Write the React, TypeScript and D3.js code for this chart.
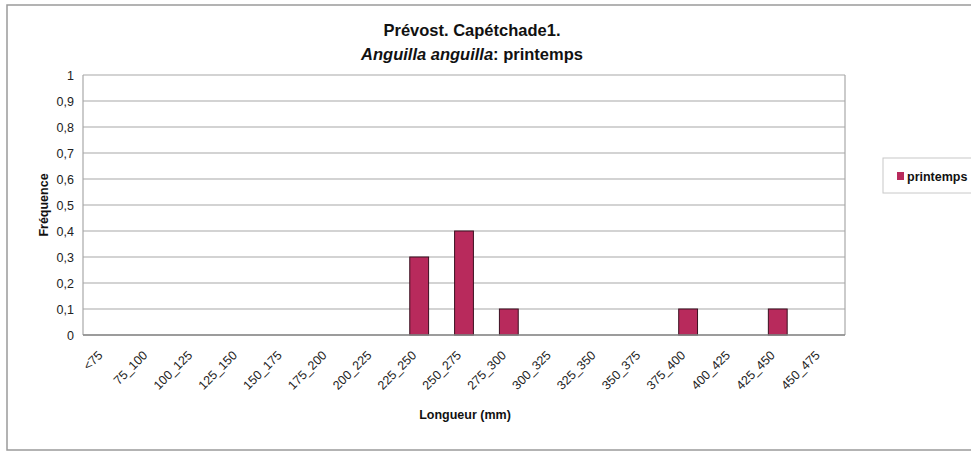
import React from "react";
import * as d3 from "d3";

const categories = ["<75", "75_100", "100_125", "125_150", "150_175", "175_200", "200_225", "225_250", "250_275", "275_300", "300_325", "325_350", "350_375", "375_400", "400_425", "425_450", "450_475"];
const printemps = [0, 0, 0, 0, 0, 0, 0, 0.3, 0.4, 0.1, 0, 0, 0, 0.1, 0, 0.1, 0];
const yTicks = [0, 0.1, 0.2, 0.3, 0.4, 0.5, 0.6, 0.7, 0.8, 0.9, 1];

const W = 971, H = 452;
const plot = { left: 83, right: 845, top: 75, bottom: 335 };
const font = "'Liberation Sans', Arial, sans-serif";
const barColor = "#b82a5c";

export default function App() {
  const x = d3.scaleBand<string>().domain(categories).range([plot.left, plot.right]).paddingInner(0.58).paddingOuter(0.29);
  const y = d3.scaleLinear().domain([0, 1]).range([plot.bottom, plot.top]);
  const fmt = (v: number) => (v === 0 || v === 1 ? String(v) : d3.format(".1f")(v).replace(".", ","));
  const step = (plot.right - plot.left) / categories.length;
  return (
    <svg width={W} height={H} style={{ position: "absolute", left: 0, top: 0, fontFamily: font }}>
      <rect x={0} y={0} width={W} height={H} fill="#ffffff" />
      <rect x={7} y={5} width={W + 5} height={H - 7} fill="#ffffff" stroke="#9a9a9a" strokeWidth={1.5} />
      <text x={472} y={36} textAnchor="middle" fontSize={16.5} fontWeight="bold" fill="#111">Prévost. Capétchade1.</text>
      <text x={472} y={60} textAnchor="middle" fontSize={16.5} fontWeight="bold" fill="#111">
        <tspan fontStyle="italic">Anguilla anguilla</tspan>: printemps
      </text>
      {yTicks.map((t) => (
        <g key={t}>
          <line x1={plot.left} x2={plot.right} y1={y(t)} y2={y(t)} stroke="#a8a8a8" strokeWidth={1.2} />
          <text x={plot.left - 9} y={y(t) + 4.5} textAnchor="end" fontSize={12.5} fill="#222">{fmt(t)}</text>
        </g>
      ))}
      <line x1={plot.left} x2={plot.left} y1={plot.top} y2={plot.bottom} stroke="#a8a8a8" strokeWidth={1.2} />
      <line x1={plot.right} x2={plot.right} y1={plot.top} y2={plot.bottom} stroke="#a8a8a8" strokeWidth={1.2} />
      {categories.map((c, i) => (
        printemps[i] > 0 ? (
          <rect key={c} x={x(c)!} y={y(printemps[i])} width={x.bandwidth()} height={y(0) - y(printemps[i])} fill={barColor} stroke="#3a1020" strokeWidth={1} />
        ) : null
      ))}
      <line x1={plot.left} x2={plot.right} y1={plot.bottom} y2={plot.bottom} stroke="#8a8a8a" strokeWidth={1.5} />
      {categories.map((c, i) => {
        const cx = plot.left + step * (i + 0.5);
        return (
          <text key={c} transform={`translate(${cx - 2},${plot.bottom + 21}) rotate(-45)`} textAnchor="end" fontSize={12.5} fill="#222">{c}</text>
        );
      })}
      <text x={465} y={419} textAnchor="middle" fontSize={12.5} fontWeight="bold" fill="#111">Longueur (mm)</text>
      <text transform={`translate(48,205) rotate(-90)`} textAnchor="middle" fontSize={12.5} fontWeight="bold" fill="#111">Fréquence</text>
      <rect x={883} y={158} width={95} height={35} fill="#ffffff" stroke="#c8c8c8" strokeWidth={1} />
      <rect x={897} y={172} width={7} height={8} fill={barColor} />
      <text x={907} y={180.5} fontSize={12.5} fontWeight="bold" fill="#111">printemps</text>
    </svg>
  );
}
